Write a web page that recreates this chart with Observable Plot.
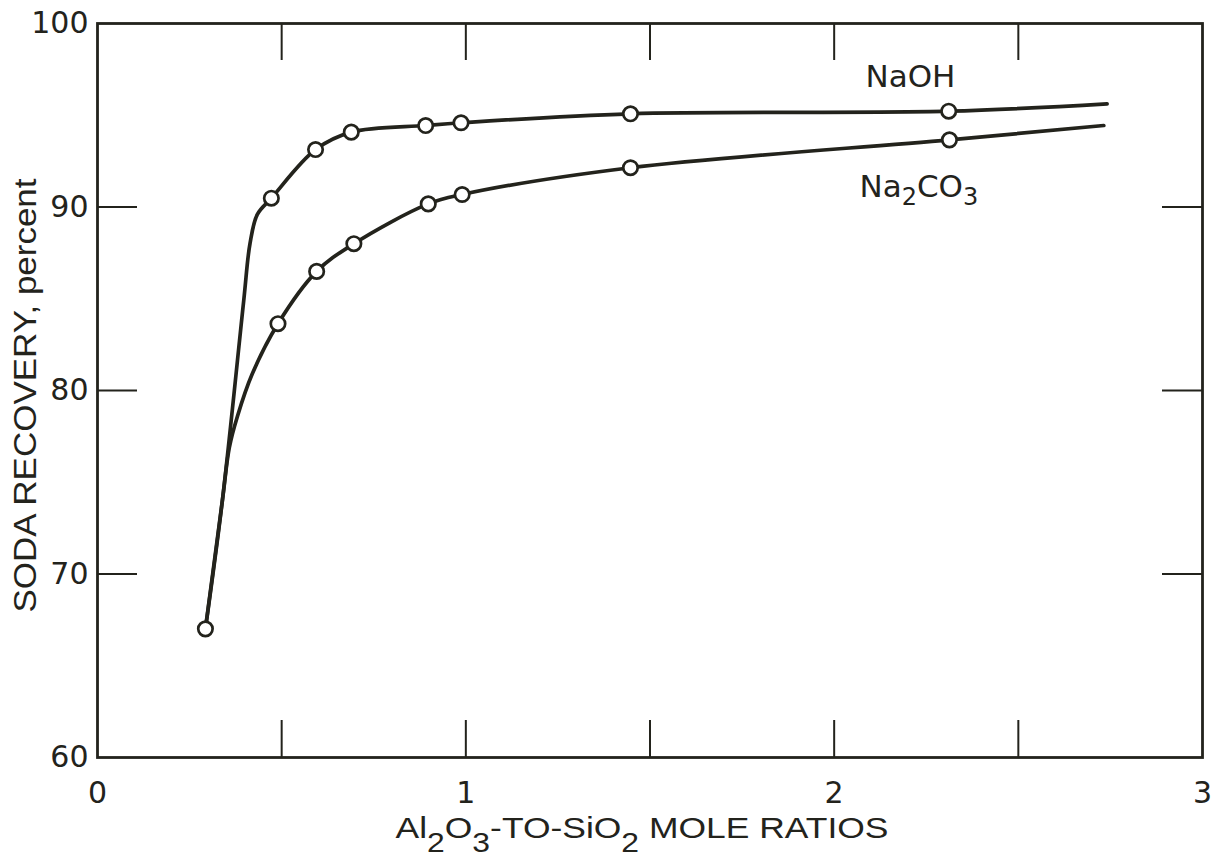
<!DOCTYPE html>
<html>
<head>
<meta charset="utf-8">
<script src="https://cdn.jsdelivr.net/npm/d3@7"></script>
<script src="https://cdn.jsdelivr.net/npm/@observablehq/plot@0.6"></script>
<style>
  html, body { margin: 0; padding: 0; background: #ffffff; }
  #chart svg { display: block; }
</style>
</head>
<body>
<div id="chart"></div>
<script>
// ---- data ----
// NaOH measured points (open circles)
const naohX = [0.472, 0.592, 0.689, 0.891, 0.987, 1.447, 2.311];
const naohY = [90.48, 93.13, 94.08, 94.44, 94.59, 95.08, 95.22];
// Na2CO3 measured points (open circles; first point shared by both curves)
const na2co3X = [0.293, 0.490, 0.595, 0.696, 0.898, 0.990, 1.447, 2.313];
const na2co3Y = [67.01, 83.64, 86.49, 88.00, 90.17, 90.68, 92.14, 93.66];
// extra positions (start / bend / end)
const naohTraceStartX = [0.293, 0.339, 0.397, 0.414, 0.434];
const naohTraceStartY = [67.01, 74.00, 84.90, 88.00, 89.60];
const naohTraceEndX = [2.741];
const naohTraceEndY = [95.62];
const na2co3TraceStartX = [0.339, 0.358, 0.380, 0.420];
const na2co3TraceStartY = [74.00, 76.90, 78.60, 80.90];
const na2co3TraceEndX = [2.732];
const na2co3TraceEndY = [94.44];
// tick values
const xTickLabels = [0, 1, 2, 3];
const yTickLabels = [60, 70, 80, 90, 100];
const xInnerTicks = [0.5, 1, 1.5, 2, 2.5];
const yInnerTicks = [70, 80, 90];
// series labels
const seriesNames = ["NaOH", "Na\u2082CO\u2083"];
const seriesLabelX = [2.207, 2.230];
const seriesLabelY = [97.06, 91.06];
const xTitle = "Al\u2082O\u2083-TO-SiO\u2082 MOLE RATIOS";
const yTitle = "SODA RECOVERY, percent";

// ---- build tables ----
const zip = (xs, ys) => xs.map((x, i) => ({x, y: ys[i]}));
const naohLine = zip([...naohTraceStartX, ...naohX, ...naohTraceEndX],
                     [...naohTraceStartY, ...naohY, ...naohTraceEndY]);
const na2co3Line = zip([na2co3X[0], ...na2co3TraceStartX, ...na2co3X.slice(1), ...na2co3TraceEndX],
                       [na2co3Y[0], ...na2co3TraceStartY, ...na2co3Y.slice(1), ...na2co3TraceEndY]);
const points = [...zip(naohX, naohY), ...zip(na2co3X, na2co3Y)];
const labels = seriesNames.map((t, i) => ({t, x: seriesLabelX[i], y: seriesLabelY[i]}));

const ink = "#23231c";
const W = 1219, H = 859;
const mL = 97, mR = 17, mT = 23, mB = 102;
const plotW = W - mL - mR, plotH = H - mT - mB;
const tickLenX = 37, tickLenY = 40;
const tickFont = "'DejaVu Sans', 'Liberation Sans', sans-serif";
const titleFont = "'Liberation Sans', 'DejaVu Sans', sans-serif";

const chart = Plot.plot({
  width: W, height: H,
  marginLeft: mL, marginRight: mR, marginTop: mT, marginBottom: mB,
  style: {background: "#ffffff", color: ink, fontFamily: tickFont},
  x: {domain: [0, 3]},
  y: {domain: [60, 100]},
  marks: [
    // inward ticks on all four sides
    Plot.ruleX(xInnerTicks, {stroke: ink, strokeWidth: 2, insetTop: plotH - tickLenX}),
    Plot.ruleX(xInnerTicks, {stroke: ink, strokeWidth: 2, insetBottom: plotH - tickLenX}),
    Plot.ruleY(yInnerTicks, {stroke: ink, strokeWidth: 2, insetRight: plotW - tickLenY}),
    Plot.ruleY(yInnerTicks, {stroke: ink, strokeWidth: 2, insetLeft: plotW - tickLenY}),
    Plot.frame({stroke: ink, strokeWidth: 2.8}),
    Plot.axisX(xTickLabels, {tickSize: 0, tickPadding: 24, fontSize: 30, label: null, fill: ink, fontFamily: tickFont, tickFormat: d => String(d)}),
    Plot.axisY(yTickLabels, {tickSize: 0, tickPadding: 9, fontSize: 30, label: null, fill: ink, fontFamily: tickFont, tickFormat: d => String(d)}),
    // curves
    Plot.line(naohLine, {x: "x", y: "y", curve: "catmull-rom", stroke: ink, strokeWidth: 3.7, strokeLinecap: "round", strokeLinejoin: "round"}),
    Plot.line(na2co3Line, {x: "x", y: "y", curve: "catmull-rom", stroke: ink, strokeWidth: 3.7, strokeLinecap: "round", strokeLinejoin: "round"}),
    // open circles
    Plot.dot(points, {x: "x", y: "y", r: 7.2, fill: "#ffffff", stroke: ink, strokeWidth: 2.7}),
    // series labels
    Plot.text(labels, {x: "x", y: "y", text: "t", fontSize: 31, fill: ink, fontFamily: tickFont, lineAnchor: "middle", className: "slabel"}),
    // axis titles
    Plot.text([xTitle], {frameAnchor: "bottom", textAnchor: "middle", dx: -8, dy: 71, fontSize: 30, fill: ink, fontFamily: titleFont, lineAnchor: "middle", className: "xtitle"}),
    Plot.text([yTitle], {frameAnchor: "left", textAnchor: "middle", rotate: -90, dx: -71, dy: 5, fontSize: 31, fill: ink, fontFamily: titleFont, lineAnchor: "middle", className: "ytitle"})
  ]
});

document.getElementById("chart").appendChild(chart);

// render unicode subscript digits as lowered, smaller tspans
const SUBS = "\u2080\u2081\u2082\u2083\u2084\u2085\u2086\u2087\u2088\u2089";
function subscriptify(t, subSize, shift) {
  const s = t.textContent;
  if (!/[\u2080-\u2089]/.test(s)) return;
  while (t.firstChild) t.removeChild(t.firstChild);
  const runs = s.split(/([\u2080-\u2089]+)/).filter(r => r.length);
  let lowered = false;
  for (const r of runs) {
    const ts = document.createElementNS("http://www.w3.org/2000/svg", "tspan");
    const isSub = SUBS.includes(r[0]);
    if (isSub) {
      ts.textContent = [...r].map(c => String(SUBS.indexOf(c))).join("");
      ts.setAttribute("font-size", subSize);
      ts.setAttribute("dy", shift);
      lowered = true;
    } else {
      ts.textContent = r;
      if (lowered) { ts.setAttribute("dy", -shift); lowered = false; }
    }
    t.appendChild(ts);
  }
}
chart.querySelectorAll(".slabel text").forEach(t => subscriptify(t, 24, 8));
chart.querySelectorAll(".xtitle text").forEach(t => subscriptify(t, 27, 14));

// fit axis titles to the reference lengths
const fit = (sel, len) => {
  chart.querySelectorAll(sel + " text").forEach(t => {
    t.setAttribute("textLength", len);
    t.setAttribute("lengthAdjust", "spacingAndGlyphs");
  });
};
fit(".xtitle", 493);
fit(".ytitle", 434);
</script>
</body>
</html>
